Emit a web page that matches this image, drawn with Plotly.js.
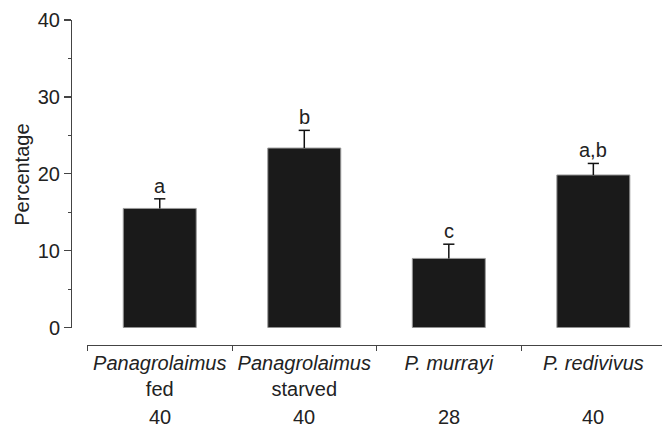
<!DOCTYPE html>
<html>
<head>
<meta charset="utf-8">
<script src="https://cdn.plot.ly/plotly-3.0.1.min.js"></script>
<style>html,body{margin:0;padding:0;background:#fff;}#chart{width:662px;height:427px;}</style>
</head>
<body>
<div id="chart"></div>
<script>
// Data
var speciesNames = ["Panagrolaimus", "Panagrolaimus", "P. murrayi", "P. redivivus"];
var conditionNames = ["fed", "starved", "", ""];
var percentages = [15.5, 23.35, 9.0, 19.85];
var errorsUp = [1.25, 2.3, 1.85, 1.5];
var sigLetters = ["a", "b", "c", "a,b"];
var sampleSizes = ["40", "40", "28", "40"];

var categories = speciesNames.map(function (s, i) {
  return "<i>" + s + "</i>" + (conditionNames[i] ? "<br>" + conditionNames[i] : "");
});

var FONT = "Liberation Sans, Arial, Helvetica, sans-serif";
var TXT = "#222222";

var bars = {
  type: "bar",
  x: categories,
  y: percentages,
  width: 0.505,
  marker: {color: "#1a1a1a", line: {color: "#9a9a9a", width: 1}},
  hoverinfo: "none"
};

// error stems (one-sided, from bar top upward)
var stemX = [], stemY = [];
categories.forEach(function (c, i) {
  stemX.push(c, c, null);
  stemY.push(percentages[i], percentages[i] + errorsUp[i], null);
});
var stems = {
  type: "scatter", mode: "lines", x: stemX, y: stemY,
  line: {color: "#111111", width: 1.5}, hoverinfo: "none", cliponaxis: false
};
var caps = {
  type: "scatter", mode: "markers", x: categories,
  y: percentages.map(function (v, i) { return v + errorsUp[i]; }),
  marker: {symbol: "line-ew", size: 8, line: {color: "#111111", width: 1.5}},
  hoverinfo: "none", cliponaxis: false
};

var annotations = [];
categories.forEach(function (c, i) {
  annotations.push({
    x: c, y: percentages[i] + errorsUp[i], xref: "x", yref: "y",
    text: sigLetters[i], showarrow: false, yanchor: "bottom", xanchor: "center",
    font: {family: FONT, size: 20, color: TXT}, yshift: 0
  });
  annotations.push({
    x: c, y: -0.223, xref: "x", yref: "paper",
    text: sampleSizes[i], showarrow: false, yanchor: "middle", xanchor: "center",
    font: {family: FONT, size: 20, color: TXT}
  });
});
annotations.push({
  x: -0.083, y: 0.5237, xref: "paper", yref: "paper",
  text: "Percentage", textangle: -90, showarrow: false,
  xanchor: "center", yanchor: "middle",
  font: {family: FONT, size: 20, color: TXT}
});

var layout = {
  width: 662, height: 427,
  margin: {l: 71, r: 0, t: 19.5, b: 82, pad: 0},
  paper_bgcolor: "#ffffff", plot_bgcolor: "#ffffff",
  showlegend: false,
  font: {family: FONT, size: 20, color: TXT},
  xaxis: {
    type: "category",
    domain: [0.0279, 1],
    range: [-0.5, 3.475],
    anchor: "free", position: 0,
    showline: true, linecolor: "#444444", linewidth: 1.2,
    ticks: "outside", ticklen: 5, tickwidth: 1, tickcolor: "#444444",
    tickson: "boundaries",
    showgrid: false, zeroline: false,
    tickfont: {family: FONT, size: 20, color: TXT},
    fixedrange: true
  },
  yaxis: {
    domain: [0.0534, 1],
    range: [0, 40],
    anchor: "free", position: 0,
    tickvals: [0, 10, 20, 30, 40],
    showline: true, linecolor: "#444444", linewidth: 1.2,
    ticks: "outside", ticklen: 7, tickwidth: 1.2, tickcolor: "#444444",
    minor: {dtick: 5, tick0: 0, ticks: "outside", ticklen: 3.5, tickwidth: 1, tickcolor: "#444444", showgrid: false},
    showgrid: false, zeroline: false,
    tickfont: {family: FONT, size: 20, color: TXT},
    fixedrange: true
  },
  annotations: annotations
};

Plotly.newPlot("chart", [bars, stems, caps], layout, {displayModeBar: false, staticPlot: true});
</script>
</body>
</html>
